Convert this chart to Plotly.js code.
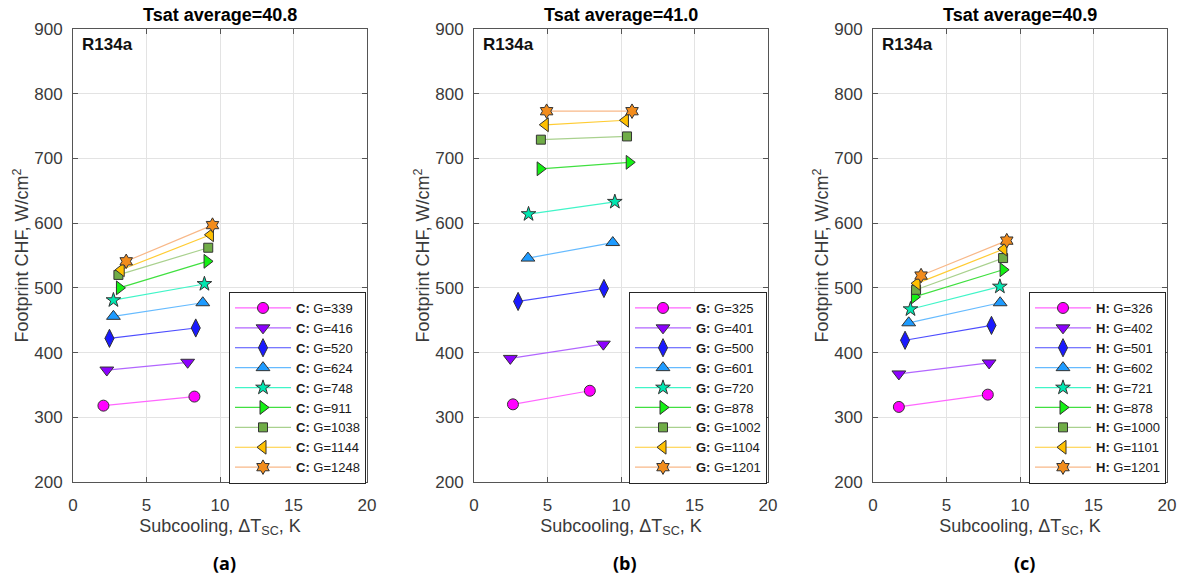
<!DOCTYPE html>
<html>
<head>
<meta charset="utf-8">
<script src="https://cdn.plot.ly/plotly-3.0.1.min.js"></script>
<style>
  html, body { margin: 0; padding: 0; background: #ffffff; }
  #chart { width: 1183px; height: 579px; }
</style>
</head>
<body>
<div id="chart"></div>
<script>
// Footprint CHF of R134a versus inlet subcooling, three heater configurations (C, G, H)

// Mass flux series (kg/m2s) per panel
const G_a = [339, 416, 520, 624, 748, 911, 1038, 1144, 1248];
const G_b = [325, 401, 500, 601, 720, 878, 1002, 1104, 1201];
const G_c = [326, 402, 501, 602, 721, 878, 1000, 1101, 1201];

// Subcooling (K): low and high subcooling point of each series
const dT_a_low  = [2.07, 2.30, 2.48, 2.75, 2.75, 3.16, 3.09, 3.28, 3.62];
const dT_a_high = [8.26, 7.80, 8.35, 8.83, 8.94, 9.12, 9.20, 9.35, 9.49];
const dT_b_low  = [2.65, 2.47, 3.00, 3.67, 3.71, 4.50, 4.55, 4.85, 4.94];
const dT_b_high = [7.88, 8.80, 8.84, 9.44, 9.58, 10.56, 10.41, 10.30, 10.75];
const dT_c_low  = [1.76, 1.76, 2.18, 2.43, 2.55, 2.82, 2.93, 3.00, 3.27];
const dT_c_high = [7.81, 7.90, 8.06, 8.65, 8.63, 8.85, 8.85, 8.90, 9.10];

// Footprint CHF (W/cm2) at those two points
const chf_a_low  = [318, 373, 422, 456, 481, 500, 520, 528, 541];
const chf_a_high = [332, 385, 438, 477, 506, 541, 562, 582, 597];
const chf_b_low  = [320, 391, 479, 546, 614, 684, 729, 752, 773];
const chf_b_high = [341, 413, 499, 570, 633, 694, 734, 759, 773];
const chf_c_low  = [316, 367, 419, 446, 467, 486, 497, 507, 519];
const chf_c_high = [335, 384, 442, 477, 502, 528, 546, 560, 573];

// Panel labels
const heaters = ['C', 'G', 'H'];
const tsatAvg = ['40.8', '41.0', '40.9'];
const panelTags = ['(a)', '(b)', '(c)'];
const fluid = 'R134a';

const xTicks = [0, 5, 10, 15, 20];
const yTicks = [200, 300, 400, 500, 600, 700, 800, 900];

// Styling per mass-flux level
const symbols = ['circle', 'triangle-down', 'diamond-tall', 'triangle-up', 'star',
                 'triangle-right', 'square', 'triangle-left', 'hexagram'];
const sizes = [11, 12, 13, 12, 11, 12, 9, 12, 11];
const fills = ['#FF00FF', '#8C00FF', '#1A1AFF', '#1E9BFF', '#00E6B0',
               '#14F014', '#70AD47', '#FFC000', '#F28C1C'];
const lines = ['#FF66FF', '#B266FF', '#4D4DFF', '#66BBFF', '#40F5C8',
               '#40E040', '#A9D18E', '#FFCC33', '#F8B888'];

// Figure geometry (pixels)
const W = 1183, H = 579;
const M = { l: 73, r: 16, t: 29, b: 97 };
const PW = W - M.l - M.r, PH = H - M.t - M.b;
const panelLeft = [73, 474, 873];
const panelWidth = 294;
const px = v => (v - M.l) / PW;
const py = v => (H - M.b - v) / PH;

const panels = [
  { G: G_a, xl: dT_a_low, xh: dT_a_high, yl: chf_a_low, yh: chf_a_high },
  { G: G_b, xl: dT_b_low, xh: dT_b_high, yl: chf_b_low, yh: chf_b_high },
  { G: G_c, xl: dT_c_low, xh: dT_c_high, yl: chf_c_low, yh: chf_c_high }
];

const FONT = '"Liberation Sans", Arial, sans-serif';
const TEXT = '#3a3a3a';

const traces = [];
const layout = {
  width: W, height: H,
  margin: M,
  paper_bgcolor: '#ffffff',
  plot_bgcolor: '#ffffff',
  font: { family: FONT, size: 17, color: TEXT },
  showlegend: true,
  annotations: []
};

panels.forEach((p, k) => {
  const sfx = k === 0 ? '' : String(k + 1);
  const xa = 'x' + sfx, ya = 'y' + sfx;
  const lg = 'legend' + sfx;

  p.G.forEach((g, i) => {
    traces.push({
      type: 'scatter',
      mode: 'lines+markers',
      x: [p.xl[i], p.xh[i]],
      y: [p.yl[i], p.yh[i]],
      xaxis: xa, yaxis: ya,
      legend: lg,
      name: '<b>' + heaters[k] + ':</b> G=' + g,
      line: { color: lines[i], width: 1.2 },
      marker: {
        symbol: symbols[i], size: sizes[i], color: fills[i],
        line: { color: '#333333', width: 1 }
      },
      hoverinfo: 'x+y+name'
    });
  });

  const x0 = panelLeft[k];
  layout['xaxis' + sfx] = {
    domain: [px(x0), px(x0 + panelWidth)],
    anchor: ya,
    range: [0, 20],
    tickvals: xTicks,
    ticks: 'inside', ticklen: 5, tickcolor: '#555555',
    showline: true, linecolor: '#555555', linewidth: 1, mirror: 'ticks',
    showgrid: true, gridcolor: '#e3e3e3', gridwidth: 1,
    zeroline: false,
    tickfont: { family: FONT, size: 17, color: TEXT },
    ticklabelstandoff: 8,
    title: { text: 'Subcooling, ΔT<sub>SC</sub>, K', font: { family: FONT, size: 18, color: TEXT }, standoff: 4 },
    fixedrange: true
  };
  layout['yaxis' + sfx] = {
    domain: [0, 1],
    anchor: xa,
    range: [200, 900],
    tickvals: yTicks,
    ticks: 'inside', ticklen: 5, tickcolor: '#555555',
    showline: true, linecolor: '#555555', linewidth: 1, mirror: 'ticks',
    showgrid: true, gridcolor: '#e3e3e3', gridwidth: 1,
    zeroline: false,
    tickfont: { family: FONT, size: 17, color: TEXT },
    ticklabelstandoff: 6,
    title: { text: 'Footprint CHF, W/cm<sup>2</sup>', font: { family: FONT, size: 18, color: TEXT }, standoff: 0 },
    fixedrange: true
  };

  layout[lg] = {
    x: px(x0 + panelWidth - 1), xanchor: 'right',
    y: py(292), yanchor: 'top',
    bgcolor: '#ffffff',
    bordercolor: '#262626', borderwidth: 1,
    font: { family: FONT, size: 13, color: '#1a1a1a' },
    tracegroupgap: 0,
    itemwidth: 56,
    entrywidthmode: 'pixels',
    entrywidth: 86
  };

  // Panel title
  layout.annotations.push({
    xref: 'paper', yref: 'paper',
    x: px(x0 + panelWidth / 2), y: py(15),
    xanchor: 'center', yanchor: 'middle',
    text: '<b>Tsat average=' + tsatAvg[k] + '</b>',
    showarrow: false,
    font: { family: FONT, size: 18, color: '#000000' }
  });
  // Fluid label in the upper-left corner
  layout.annotations.push({
    xref: 'paper', yref: 'paper',
    x: px(x0 + 7), y: py(45),
    xanchor: 'left', yanchor: 'middle',
    text: '<b>' + fluid + '</b>',
    showarrow: false,
    font: { family: FONT, size: 17, color: '#111111' }
  });
  // Sub-figure tag below the axis title
  layout.annotations.push({
    xref: 'paper', yref: 'paper',
    x: px(x0 + panelWidth / 2 + 4), y: py(563),
    xanchor: 'center', yanchor: 'middle',
    text: '<b>' + panelTags[k] + '</b>',
    showarrow: false,
    font: { family: 'Open Sans, sans-serif', size: 18, color: '#000000' }
  });
});

Plotly.newPlot('chart', traces, layout, { displayModeBar: false, staticPlot: true });
</script>
</body>
</html>
